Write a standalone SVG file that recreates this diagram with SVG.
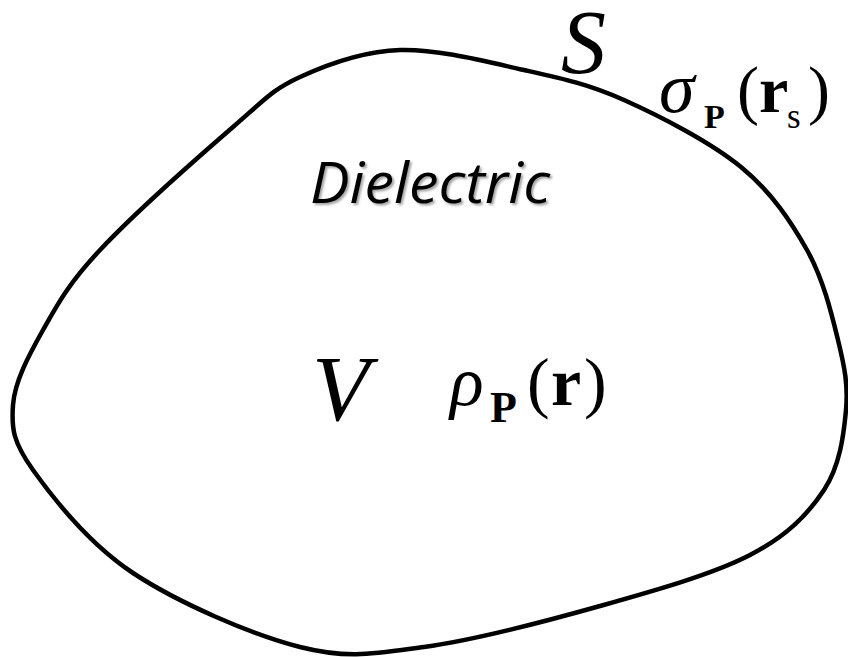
<svg xmlns="http://www.w3.org/2000/svg" width="848" height="657" viewBox="0 0 848 657">
<defs>
<filter id="shadow" x="-10%" y="-30%" width="120%" height="160%">
<feDropShadow dx="2" dy="2" stdDeviation="1.2" flood-color="#000" flood-opacity="0.35"/>
</filter>
</defs>
<style>
.outline{fill:none;stroke:#000;stroke-width:4.5;stroke-linejoin:round}
.m{font-family:"Liberation Serif","Times New Roman",serif;fill:#000}
.it{font-style:italic}
.b{font-weight:bold}
.lbl{font-family:"Open Sans","Liberation Sans",sans-serif;font-style:italic;fill:#000}
</style>
<rect width="848" height="657" fill="#fff"/>
<g id="surface">
<path class="outline" d="M400,50 C437.3,48.8 486.7,61.7 524,70 C561.3,78.3 587.8,83.8 624,100 C660.2,116.2 710.5,142 741,167 C771.5,192 790.8,221.2 807,250 C823.2,278.8 831.5,313.3 838,340 C844.5,366.7 848.3,385 846,410 C843.7,435 840,465.8 824,490 C808,514.2 787.3,535.7 750,555 C712.7,574.3 654.3,590.7 600,606 C545.7,621.3 474,640.2 424,647 C374,653.8 348.5,659.3 300,647 C251.5,634.7 177.5,602.5 133,573 C88.5,543.5 53,498 33,470 C13,442 11.3,428.3 13,405 C14.7,381.7 28.5,355.8 43,330 C57.5,304.2 68.3,283.8 100,250 C131.7,216.2 199.7,155.8 233,127 C266.3,98.2 272.2,89.8 300,77 C327.8,64.2 362.7,51.2 400,50 Z"/>
</g>
<g id="labels">
<text class="m it" x="561" y="73" font-size="90">S</text>
<g id="sigma">
<text class="m it" x="659" y="112" font-size="72">σ</text>
<text class="m b" x="704" y="128" font-size="34">P</text>
<text class="m" x="737" y="112" font-size="66">(</text>
<text class="m b" x="759" y="112" font-size="66">r</text>
<text class="m" x="787" y="128" font-size="35">s</text>
<text class="m" x="808" y="112" font-size="66">)</text>
</g>
<text class="lbl" x="310" y="203" font-size="56" textLength="240" lengthAdjust="spacingAndGlyphs" filter="url(#shadow)">Dielectric</text>
<text class="m it" x="312" y="420" font-size="94">V</text>
<g id="rho">
<text class="m it" x="450" y="405" font-size="70">ρ</text>
<text class="m b" x="490" y="422" font-size="44">P</text>
<text class="m" x="527" y="405" font-size="68">(</text>
<text class="m b" x="551" y="405" font-size="68">r</text>
<text class="m" x="584" y="405" font-size="68">)</text>
</g>
</g>
</svg>
